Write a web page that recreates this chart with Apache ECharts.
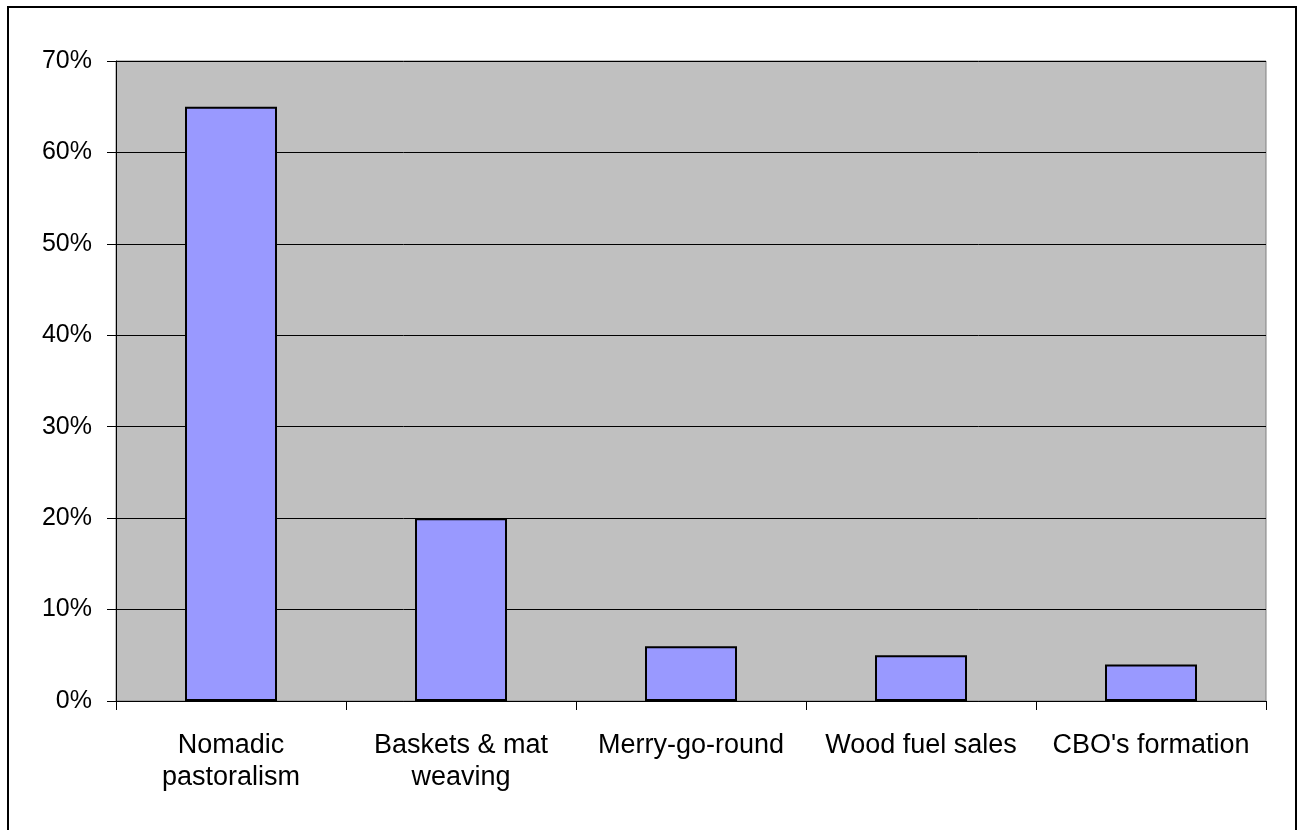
<!DOCTYPE html>
<html>
<head>
<meta charset="utf-8">
<script src="https://cdn.jsdelivr.net/npm/echarts@6/dist/echarts.min.js"></script>
<style>
  html, body { margin: 0; padding: 0; background: #fff; }
  #chart { width: 1299px; height: 830px; }
</style>
</head>
<body>
<div id="chart"></div>
<script>
// Income sources, share of respondents (%)
const categories = ['Nomadic\npastoralism', 'Baskets & mat\nweaving', 'Merry-go-round', 'Wood fuel sales', "CBO's formation"];
const shares = [65, 20, 6, 5, 4];
const yTicks = [0, 10, 20, 30, 40, 50, 60, 70];

const chart = echarts.init(document.getElementById('chart'), null, { renderer: 'canvas' });
const font = '"Liberation Sans", Arial, sans-serif';

chart.setOption({
  animation: false,
  graphic: [{
    type: 'rect',
    shape: { x: 8, y: 7, width: 1288, height: 900 },
    style: { fill: 'none', stroke: '#000', lineWidth: 2 },
    silent: true
  }],
  grid: {
    left: 116, top: 61, right: 33, bottom: 129,
    show: true,
    backgroundColor: '#C0C0C0',
    borderColor: '#808080',
    borderWidth: 1
  },
  xAxis: {
    type: 'category',
    data: categories,
    axisLine: { lineStyle: { color: '#000', width: 1 } },
    axisTick: { show: true, length: 9, alignWithLabel: false, lineStyle: { color: '#000' } },
    axisLabel: {
      fontFamily: font, fontSize: 27, color: '#000',
      lineHeight: 32, margin: 29, interval: 0
    }
  },
  yAxis: {
    type: 'value',
    min: yTicks[0], max: yTicks[yTicks.length - 1], interval: 10,
    axisLine: { show: true, lineStyle: { color: '#000', width: 1 } },
    axisTick: { show: true, length: 9, lineStyle: { color: '#000' } },
    splitLine: { show: true, lineStyle: { color: '#000', width: 1 } },
    axisLabel: {
      fontFamily: font, fontSize: 25, color: '#000', margin: 24,
      formatter: v => v + '%'
    }
  },
  series: [{
    type: 'bar',
    data: shares,
    barWidth: '40%',
    itemStyle: { color: '#9999FF', borderColor: '#000', borderWidth: 2 }
  }]
});
</script>
</body>
</html>
